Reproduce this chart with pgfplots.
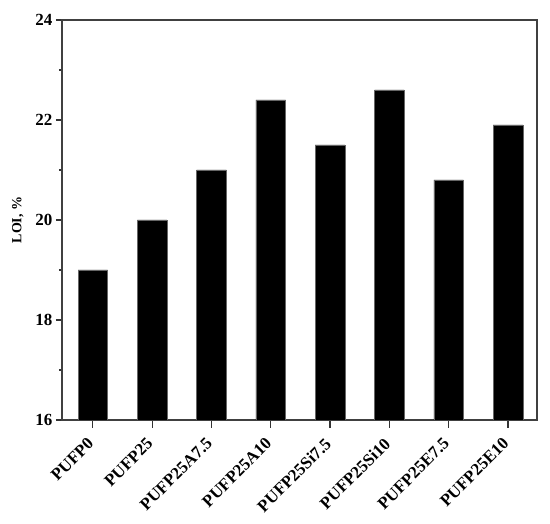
\documentclass[border=0pt]{standalone}
\usepackage{pgfplots}
\pgfplotsset{compat=1.18}
\usepackage{fontspec}
\setmainfont{Liberation Serif}

\begin{document}
\begin{tikzpicture}
\begin{axis}[
  name=ax,
  scale only axis,
  width=475pt, height=400pt,
  xmin=-0.52, xmax=7.49,
  ymin=16, ymax=24,
  xtick={0,1,2,3,4,5,6,7},
  xticklabels={PUFP0,PUFP25,PUFP25A7.5,PUFP25A10,PUFP25Si7.5,PUFP25Si10,PUFP25E7.5,PUFP25E10},
  ytick={16,18,20,22,24},
  minor ytick={17,19,21,23},
  xtick pos=bottom, ytick pos=left,
  tick align=outside,
  major tick length=6pt, minor tick length=3pt,
  axis line style={black!75, line width=1.2pt},
  xtick style={draw=black!80, line width=1.1pt, /pgfplots/major tick length=8pt},
  ytick style={draw=black!80, line width=1.1pt},
  tick label style={font=\bfseries\fontsize{17}{17}\selectfont},
  /pgf/number format/assume math mode=true,
  xticklabel style={rotate=45, anchor=north east, inner xsep=12pt, inner ysep=3pt},
  ylabel={LOI, \%},
  ylabel shift=5pt,
  ylabel style={font=\bfseries\fontsize{14}{14}\selectfont},
]
\addplot[ybar, bar width=0.5, fill=black, draw=black!60, line width=0.4pt] coordinates {
  (0,19.0) (1,20.0) (2,21.0) (3,22.4) (4,21.5) (5,22.6) (6,20.8) (7,21.9)
};
\end{axis}
\path (ax.north east) ++(13pt,20pt);
\path (ax.south west) ++(-62pt,-104pt);
\end{tikzpicture}
\end{document}
